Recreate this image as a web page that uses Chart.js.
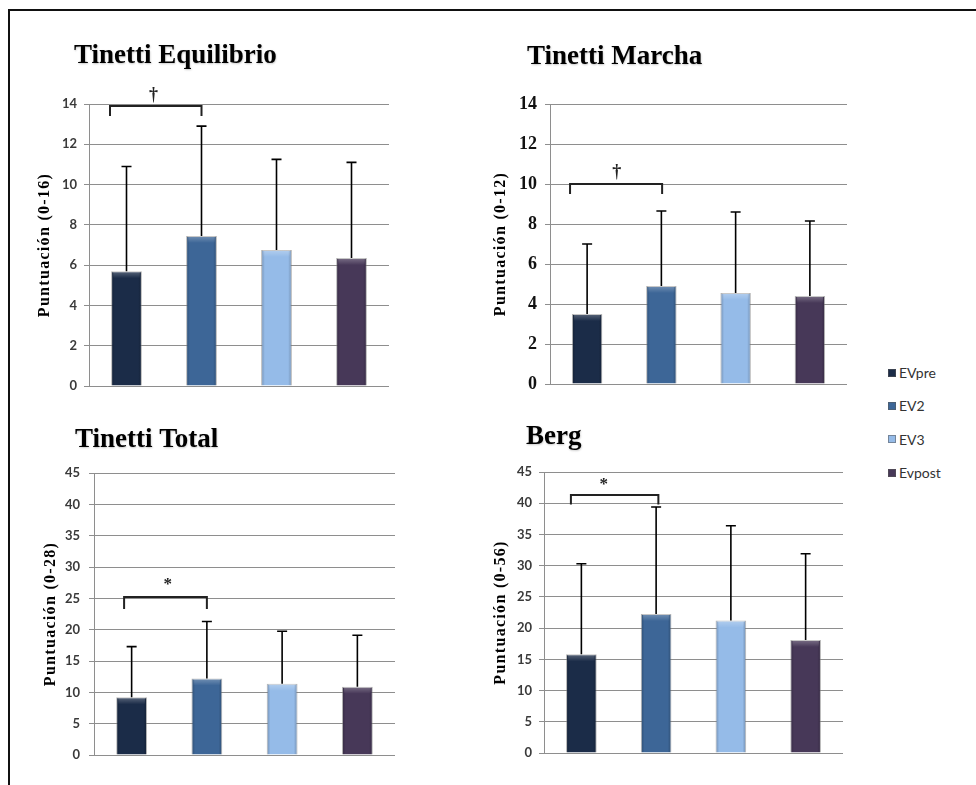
<!DOCTYPE html>
<html>
<head>
<meta charset="utf-8">
<script src="https://cdn.jsdelivr.net/npm/chart.js@4.4.1/dist/chart.umd.min.js"></script>
<style>
  html, body { margin: 0; padding: 0; background: #fff; }
  body { width: 976px; height: 785px; position: relative; overflow: hidden; }
  #frame { position: absolute; left: 8px; top: 9px; width: 1000px; height: 800px;
           border-left: 2px solid #111; border-top: 2px solid #111; }
  canvas { position: absolute; }
  #legend { position: absolute; left: 888px; top: 356px; font: 14px Lato, sans-serif; color: #333; }
  #legend .item { height: 33.33px; display: flex; align-items: center; white-space: nowrap; }
  #legend .sw { width: 8px; height: 8px; margin-right: 3px; box-sizing: border-box; border: 1px solid rgba(90,90,90,0.55); }
</style>
</head>
<body>
<div id="frame"></div>
<canvas id="c1" width="458" height="393" style="left:12px;top:12px"></canvas>
<canvas id="c2" width="410" height="393" style="left:470px;top:12px"></canvas>
<canvas id="c3" width="458" height="380" style="left:12px;top:405px"></canvas>
<canvas id="c4" width="410" height="380" style="left:470px;top:405px"></canvas>
<div id="legend"></div>
<script>
// Groups (evaluation moments) and their colours
const groups = ['EVpre', 'EV2', 'EV3', 'Evpost'];
const groupColors = ['#1b2c48', '#3d6697', '#95bbe8', '#473858'];

// Mean scores and standard deviations per scale
const equilibrioMean = [5.7, 7.45, 6.75, 6.35];
const equilibrioSD   = [5.2, 5.45, 4.5, 4.75];
const marchaMean     = [3.5, 4.9, 4.55, 4.4];
const marchaSD       = [3.5, 3.75, 4.05, 3.75];
const totalMean      = [9.2, 12.2, 11.35, 10.9];
const totalSD        = [8.1, 9.1, 8.4, 8.2];
const bergMean       = [15.8, 22.25, 21.2, 18.1];
const bergSD         = [14.5, 17.15, 15.2, 13.8];

// Y tick values
const ticks14 = [0, 2, 4, 6, 8, 10, 12, 14];
const ticks45 = [0, 5, 10, 15, 20, 25, 30, 35, 40, 45];

const sansTicks  = { family: 'Lato, sans-serif', size: 13, weight: 'bold' };
const serifTicks = { family: '"Liberation Serif", serif', size: 18, weight: 'bold' };

const panels = [
  { canvas: 'c1', title: 'Tinetti Equilibrio', yTitle: 'Puntuación (0-16)',
    mean: equilibrioMean, sd: equilibrioSD, ticks: ticks14,
    box: { x: 12, y: 12, w: 458, h: 393 }, area: { l: 89, t: 104, r: 389, b: 386 },
    titleAt: [74, 63], yTitleX: 45, tickFont: sansTicks, tickColor: '#3a3a3a', tickPad: 7,
    sig: { text: '†', from: -0.22, to: 1.0, top: 13.9, foot: 13.4, tx: 0.36, ty: 14.45 } },
  { canvas: 'c2', title: 'Tinetti Marcha', yTitle: 'Puntuación (0-12)',
    mean: marchaMean, sd: marchaSD, ticks: ticks14,
    box: { x: 470, y: 12, w: 410, h: 393 }, area: { l: 550, t: 104, r: 847, b: 384 },
    titleAt: [527, 64], yTitleX: 500.5, tickFont: serifTicks, tickColor: '#111', tickPad: 8,
    sig: { text: '†', from: -0.23, to: 1.01, top: 10.0, foot: 9.5, tx: 0.4, ty: 10.6 } },
  { canvas: 'c3', title: 'Tinetti Total', yTitle: 'Puntuación (0-28)',
    mean: totalMean, sd: totalSD, ticks: ticks45,
    box: { x: 12, y: 405, w: 458, h: 380 }, area: { l: 94, t: 473, r: 395, b: 755 },
    titleAt: [75, 447], yTitleX: 50.5, tickFont: sansTicks, tickColor: '#3a3a3a', tickPad: 9,
    sig: { text: '*', from: -0.1, to: 1.0, top: 25.2, foot: 23.3, tx: 0.48, ty: 27.7 } },
  { canvas: 'c4', title: 'Berg', yTitle: 'Puntuación (0-56)',
    mean: bergMean, sd: bergSD, ticks: ticks45,
    box: { x: 470, y: 405, w: 410, h: 380 }, area: { l: 544, t: 472, r: 843, b: 753 },
    titleAt: [526, 444], yTitleX: 500.5, tickFont: sansTicks, tickColor: '#3a3a3a', tickPad: 7,
    sig: { text: '*', from: -0.14, to: 1.03, top: 41.3, foot: 39.8, tx: 0.3, ty: 43.4 } }
];

const BAR_PCT = 0.41;

function shade(hex, f) {
  const n = parseInt(hex.slice(1), 16);
  const c = [(n >> 16) & 255, (n >> 8) & 255, n & 255].map(v => Math.round(f < 0 ? v * (1 + f) : v + (255 - v) * f));
  return 'rgb(' + c.join(',') + ')';
}

// Bar fill: darker rim on both sides of each column
function barFill(context) {
  const chart = context.chart, xs = chart.scales.x;
  const i = context.dataIndex;
  const base = groupColors[i];
  if (!xs || !(xs.width > 0)) return base;
  const cx = xs.getPixelForValue(i);
  const w = xs.width / groups.length * BAR_PCT;
  if (!isFinite(cx) || !isFinite(w)) return base;
  const g = chart.ctx.createLinearGradient(cx - w / 2, 0, cx + w / 2, 0);
  g.addColorStop(0, shade(base, -0.25));
  g.addColorStop(0.12, base);
  g.addColorStop(0.88, base);
  g.addColorStop(1, shade(base, -0.25));
  return g;
}

// Error bars, bevel highlight, titles and significance bracket
function decor(p) {
  const ox = p.box.x, oy = p.box.y;
  return {
    id: 'decor',
    afterDatasetsDraw(chart) {
      const ctx = chart.ctx, ys = chart.scales.y;
      const meta = chart.getDatasetMeta(0);
      ctx.save();
      meta.data.forEach((bar) => {
        const w = bar.width;
        const hl = ctx.createLinearGradient(0, bar.y, 0, bar.y + 7);
        hl.addColorStop(0, 'rgba(255,255,255,0.28)');
        hl.addColorStop(1, 'rgba(255,255,255,0)');
        ctx.fillStyle = hl;
        ctx.fillRect(bar.x - w / 2 + 2, bar.y, w - 4, 7);
      });
      ctx.strokeStyle = '#000';
      ctx.lineWidth = 1.6;
      meta.data.forEach((bar, i) => {
        const y0 = ys.getPixelForValue(p.mean[i]);
        const y1 = ys.getPixelForValue(p.mean[i] + p.sd[i]);
        ctx.beginPath();
        ctx.moveTo(bar.x, y0);
        ctx.lineTo(bar.x, y1);
        ctx.moveTo(bar.x - 5, y1);
        ctx.lineTo(bar.x + 5, y1);
        ctx.stroke();
      });
      ctx.restore();
    },
    afterDraw(chart) {
      const ctx = chart.ctx, xs = chart.scales.x, ys = chart.scales.y, a = chart.chartArea;
      ctx.save();
      // panel title
      ctx.font = 'bold 27px "Liberation Serif", serif';
      ctx.fillStyle = '#000';
      ctx.textAlign = 'left';
      ctx.textBaseline = 'alphabetic';
      ctx.shadowColor = 'rgba(0,0,0,0.22)';
      ctx.shadowBlur = 2;
      ctx.shadowOffsetX = 0.5;
      ctx.shadowOffsetY = 0.5;
      ctx.fillText(p.title, p.titleAt[0] - ox, p.titleAt[1] - oy);
      ctx.shadowColor = 'transparent';
      // y-axis title
      ctx.save();
      ctx.translate(p.yTitleX - ox, (a.top + a.bottom) / 2);
      ctx.rotate(-Math.PI / 2);
      ctx.font = 'bold 16px "Liberation Serif", serif';
      ctx.letterSpacing = '1.3px';
      ctx.textAlign = 'center';
      ctx.textBaseline = 'middle';
      ctx.fillText(p.yTitle, 0, 0);
      ctx.restore();
      // significance bracket
      const s = p.sig;
      const x0 = xs.getPixelForValue(s.from), x1 = xs.getPixelForValue(s.to);
      const yt = ys.getPixelForValue(s.top), yf = ys.getPixelForValue(s.foot);
      ctx.strokeStyle = '#222';
      ctx.lineWidth = 2;
      ctx.beginPath();
      ctx.moveTo(x0, yf);
      ctx.lineTo(x0, yt);
      ctx.lineTo(x1, yt);
      ctx.lineTo(x1, yf);
      ctx.stroke();
      ctx.font = s.text === '*' ? 'bold 17px "Liberation Serif", serif' : 'bold 18px "Liberation Serif", serif';
      ctx.fillStyle = '#222';
      ctx.textAlign = 'center';
      ctx.textBaseline = 'middle';
      ctx.fillText(s.text, xs.getPixelForValue(s.tx), ys.getPixelForValue(s.ty) + (s.text === '*' ? 3 : 0));
      ctx.restore();
    }
  };
}

panels.forEach(p => {
  const tickVals = p.ticks;
  new Chart(document.getElementById(p.canvas), {
    type: 'bar',
    data: {
      labels: groups,
      datasets: [{
        data: p.mean,
        backgroundColor: barFill,
        borderColor: 'rgba(120,120,120,0.55)',
        borderWidth: 1,
        barPercentage: BAR_PCT,
        categoryPercentage: 1
      }]
    },
    options: {
      responsive: false,
      animation: false,
      devicePixelRatio: 1,
      layout: {
        padding: {
          left: 0,
          top: p.area.t - p.box.y,
          right: p.box.x + p.box.w - p.area.r,
          bottom: p.box.y + p.box.h - p.area.b
        }
      },
      plugins: { legend: { display: false }, tooltip: { enabled: false }, title: { display: false } },
      scales: {
        x: { display: false },
        y: {
          min: tickVals[0],
          max: tickVals[tickVals.length - 1],
          afterBuildTicks(scale) { scale.ticks = tickVals.map(v => ({ value: v })); },
          afterFit(scale) { scale.width = p.area.l - p.box.x; },
          grid: { color: '#8e8e8e', lineWidth: 1, tickLength: 5, drawTicks: true },
          border: { display: true, color: '#8e8e8e', width: 1 },
          ticks: { font: p.tickFont, color: p.tickColor, padding: p.tickPad }
        }
      }
    },
    plugins: [decor(p)]
  });
});

// Legend
const legend = document.getElementById('legend');
groups.forEach((g, i) => {
  const item = document.createElement('div');
  item.className = 'item';
  const sw = document.createElement('span');
  sw.className = 'sw';
  sw.style.background = groupColors[i];
  const tx = document.createElement('span');
  tx.textContent = g;
  item.appendChild(sw);
  item.appendChild(tx);
  legend.appendChild(item);
});
</script>
</body>
</html>
